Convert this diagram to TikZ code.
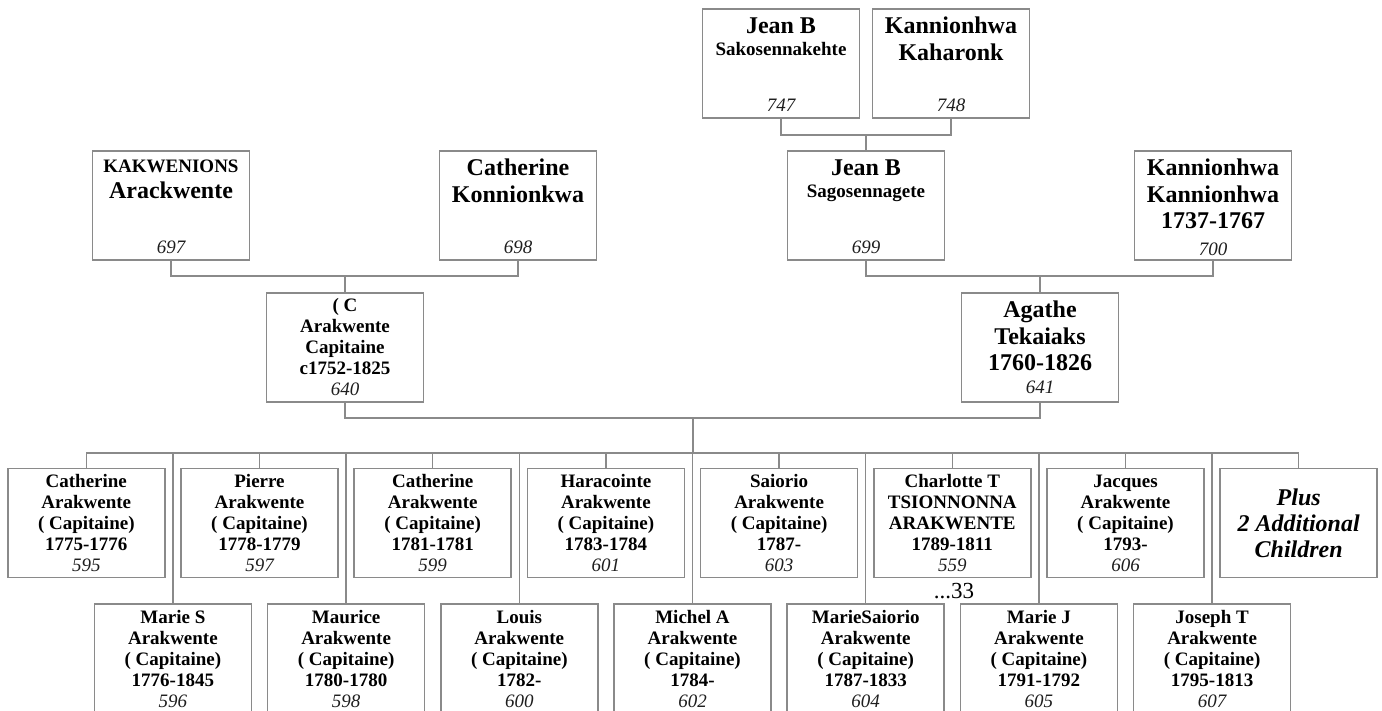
\documentclass[tikz,border=0pt]{standalone}
\usepackage{fontspec}
\setmainfont{Liberation Serif}
\usepackage{tikz}
\usetikzlibrary{positioning}
\usepackage{xcolor}

\definecolor{treegray}{RGB}{138,138,138}
\definecolor{numgray}{RGB}{30,30,30}

\newcommand{\bigname}{\fontsize{24}{26.5}\selectfont\bfseries}
\newcommand{\smallname}{\fontsize{19}{22}\selectfont\bfseries}
\newcommand{\famno}[1]{{\fontsize{19}{21}\selectfont\mdseries\itshape\color{numgray}#1}}
\newcommand{\parentbox}[2]{\begin{minipage}[c][97pt][t]{150pt}\centering #1\par\vfill\famno{#2}\end{minipage}}

\begin{document}
\begin{tikzpicture}[
    x=1pt, y=-1pt,
    link/.style={draw=treegray, line width=1.5pt},
    person/.style={draw=treegray, line width=1.5pt, fill=white, inner xsep=3.5pt, inner ysep=6pt},
    kid/.style={draw=treegray, line width=1.5pt, fill=white, minimum width=157pt, minimum height=109pt,
        inner sep=2pt, align=center, font=\fontsize{19}{21}\selectfont\bfseries},
]
    \clip (0,0) rectangle (1382,711);
    % grandparents
    \node[person] (p747) at (781,63.5) {\parentbox{\bigname\strut Jean B\par\smallname Sakosennakehte}{747}};
    \node[person] (p748) at (951,63.5) {\parentbox{\bigname\strut Kannionhwa\par Kaharonk}{748}};
    % parents of the couple
    \node[person] (p697) at (171,205.5) {\parentbox{\smallname\strut KAKWENIONS\par\bigname Arackwente}{697}};
    \node[person] (p698) at (518,205.5) {\parentbox{\bigname\strut Catherine\par Konnionkwa}{698}};
    \node[person] (p699) at (866,205.5) {\parentbox{\bigname\strut Jean B\par\smallname Sagosennagete}{699}};
    \node[person] (p700) at (1213,205.5) {\parentbox{\bigname\strut Kannionhwa\par Kannionhwa\par 1737-1767}{700}};
    % the couple
    \node[kid] (p640) at (345,347.5) {( C\\Arakwente\\Capitaine\\c1752-1825\\\famno{640}};
    \node[kid, font=\bigname] (p641) at (1040,347.5) {Agathe\\Tekaiaks\\1760-1826\\[-4pt]\famno{641}};
    % children, upper row
    \node[kid] (c595) at (86.3,523) {Catherine\\Arakwente\\( Capitaine)\\1775-1776\\\famno{595}};
    \node[kid] (c597) at (259.5,523) {Pierre\\Arakwente\\( Capitaine)\\1778-1779\\\famno{597}};
    \node[kid] (c599) at (432.7,523) {Catherine\\Arakwente\\( Capitaine)\\1781-1781\\\famno{599}};
    \node[kid] (c601) at (605.9,523) {Haracointe\\Arakwente\\( Capitaine)\\1783-1784\\\famno{601}};
    \node[kid] (c603) at (779.1,523) {Saiorio\\Arakwente\\( Capitaine)\\1787-\\\famno{603}};
    \node[kid] (c559) at (952.3,523) {Charlotte T\\TSIONNONNA\\ARAKWENTE\\1789-1811\\\famno{559}};
    \node[kid] (c606) at (1125.5,523) {Jacques\\Arakwente\\( Capitaine)\\1793-\\\famno{606}};
    \node[kid, font=\fontsize{24}{26}\selectfont\bfseries\itshape] (cplus) at (1298.7,523) {Plus\\2 Additional\\Children};
    % children, lower row
    \node[kid] (c596) at (172.9,658.5) {Marie S\\Arakwente\\( Capitaine)\\1776-1845\\\famno{596}};
    \node[kid] (c598) at (346.1,658.5) {Maurice\\Arakwente\\( Capitaine)\\1780-1780\\\famno{598}};
    \node[kid] (c600) at (519.3,658.5) {Louis\\Arakwente\\( Capitaine)\\1782-\\\famno{600}};
    \node[kid] (c602) at (692.5,658.5) {Michel A\\Arakwente\\( Capitaine)\\1784-\\\famno{602}};
    \node[kid] (c604) at (865.7,658.5) {MarieSaiorio\\Arakwente\\( Capitaine)\\1787-1833\\\famno{604}};
    \node[kid] (c605) at (1038.9,658.5) {Marie J\\Arakwente\\( Capitaine)\\1791-1792\\\famno{605}};
    \node[kid] (c607) at (1212.1,658.5) {Joseph T\\Arakwente\\( Capitaine)\\1795-1813\\\famno{607}};
    \node (ellip) at (954,591) {\fontsize{23}{23}\selectfont ...33};
    % junctions
    \coordinate (up1) at (866,135);
    \coordinate (up2) at (345,276);
    \coordinate (up3) at (1040,276);
    \coordinate (fam) at (693,418);
    \coordinate (bus) at (693,453);
    % links
    \draw[link] (p747.south) |- (up1) -| (p748.south);
    \draw[link] (up1) -- (p699.north);
    \draw[link] (p697.south) |- (up2) -| (p698.south);
    \draw[link] (up2) -- (p640.north);
    \draw[link] (p699.south) |- (up3) -| (p700.south);
    \draw[link] (up3) -- (p641.north);
    \draw[link] (p640.south) |- (fam) -| (p641.south);
    \draw[link] (fam) -- (bus);
    \draw[link] (c595.north) |- (bus) -| (cplus.north);
    \draw[link] (c597.north) -- (c597.north |- bus);
    \draw[link] (c599.north) -- (c599.north |- bus);
    \draw[link] (c601.north) -- (c601.north |- bus);
    \draw[link] (c603.north) -- (c603.north |- bus);
    \draw[link] (c559.north) -- (c559.north |- bus);
    \draw[link] (c606.north) -- (c606.north |- bus);
    \draw[link] (c596.north) -- (c596.north |- bus);
    \draw[link] (c598.north) -- (c598.north |- bus);
    \draw[link] (c600.north) -- (c600.north |- bus);
    \draw[link] (c602.north) -- (c602.north |- bus);
    \draw[link] (c604.north) -- (c604.north |- bus);
    \draw[link] (c605.north) -- (c605.north |- bus);
    \draw[link] (c607.north) -- (c607.north |- bus);
\end{tikzpicture}
\end{document}
